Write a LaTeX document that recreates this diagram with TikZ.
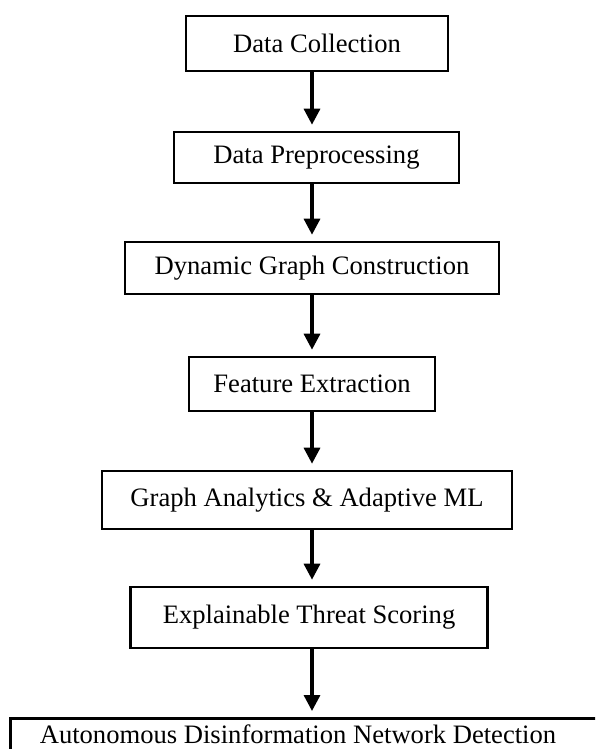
\documentclass[tikz,border=0pt]{standalone}
\usepackage{fontspec}
\setmainfont{Liberation Serif}
\usetikzlibrary{arrows.meta}
\begin{document}
\begin{tikzpicture}[x=1pt,y=-1pt,
  stepbox/.style={draw=black, line width=2.6pt, fill=white, inner sep=0pt,
    font=\fontsize{26.6}{30}\selectfont, anchor=center},
  flow/.style={line width=3.3pt, shorten >=6pt, -{Triangle[length=16pt,width=16pt]}}]
\useasboundingbox (0,0) rectangle (595,749);
\clip (0,0) rectangle (595,749);
% axis on which all arrows run
\coordinate (ax) at (312,0);
\node[stepbox, minimum width=262pt, minimum height=55pt] (n1) at (317,43.5) {Data Collection};
\node[stepbox, minimum width=285pt, minimum height=51pt] (n2) at (316.5,157.5) {Data Preprocessing};
\node[stepbox, minimum width=374pt, minimum height=52pt] (n3) at (312,268) {Dynamic Graph Construction};
\node[stepbox, minimum width=246pt, minimum height=54pt] (n4) at (312,384) {Feature Extraction};
\node[stepbox, minimum width=410pt, minimum height=58pt] (n5) at (307,500) {Graph Analytics \& Adaptive ML};
\node[stepbox, minimum width=357pt, minimum height=61pt] (n6) at (309,617.5) {Explainable Threat Scoring};
% last box runs past the lower and right edges
\node[stepbox, minimum width=700pt, minimum height=60pt, anchor=north west] (n7) at (9,717) {};
\node[font=\fontsize{26.6}{30}\selectfont, inner sep=0pt, anchor=base] (n7t) at (298,743) {Autonomous Disinformation Network Detection};
\draw[flow] (n1.south -| ax) -- (n2.north -| ax);
\draw[flow] (n2.south -| ax) -- (n3.north -| ax);
\draw[flow] (n3.south -| ax) -- (n4.north -| ax);
\draw[flow] (n4.south -| ax) -- (n5.north -| ax);
\draw[flow] (n5.south -| ax) -- (n6.north -| ax);
\draw[flow] (n6.south -| ax) -- (n7.north -| ax);
\end{tikzpicture}
\end{document}
